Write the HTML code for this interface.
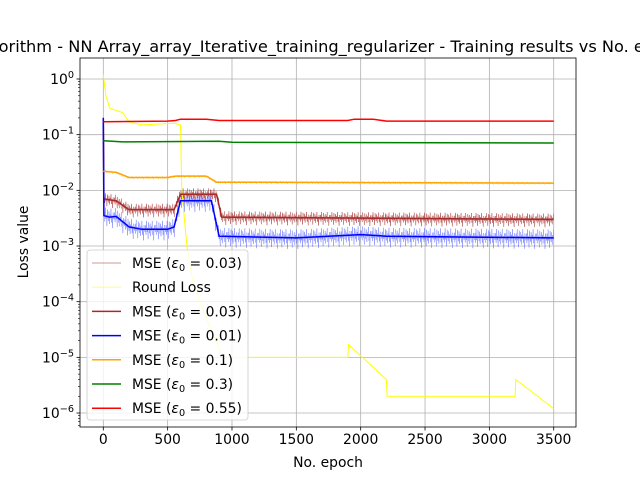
<!DOCTYPE html>
<html><head><meta charset="utf-8"><style>
body{margin:0;background:#fff;}
svg text{font-family:"DejaVu Sans","Liberation Sans",sans-serif;}
</style></head><body>
<svg id="c" width="640" height="480" xmlns="http://www.w3.org/2000/svg"></svg>
<script>
const redE=[0,500,560,600,800,900,1900,1950,2100,2200,3500];
const redV=[0.17,0.175,0.18,0.19,0.19,0.18,0.18,0.19,0.19,0.175,0.175];
const greenE=[0,150,900,1000,3500];
const greenV=[0.078,0.074,0.076,0.073,0.071];
const orangeE=[0,100,200,500,560,800,880,3500];
const orangeV=[0.022,0.021,0.017,0.017,0.018,0.018,0.014,0.0135];
const brownE=[0,5,100,200,550,600,880,920,3500];
const brownV=[0.2,0.007,0.0065,0.0045,0.0045,0.0085,0.0085,0.0033,0.003];
const blueE=[0,5,50,100,200,300,500,550,600,840,900,1500,2000,2200,3500];
const blueV=[0.2,0.0035,0.0033,0.0034,0.0022,0.002,0.002,0.0022,0.0065,0.0065,0.0015,0.0014,0.0016,0.0015,0.0014];
const roundE=[0,20,50,150,200,300,550,600,610,650,700,800,900,905,1900,1905,2200,2205,3200,3205,3500];
const roundV=[1.2,0.5,0.3,0.25,0.17,0.15,0.16,0.15,0.01,1e-3,2e-4,5e-5,1.5e-5,1e-5,1e-5,1.7e-5,4e-6,2e-6,2e-6,4e-6,1.2e-6];
const noise=[0.15,-0.2,0.3,-0.1,0.05,-0.35,0.25,0.0,-0.15,0.2,-0.25,0.1,-0.05,0.3,-0.2,0.05,-0.4,0.15,0.0,-0.1];
const xTicks=[0,500,1000,1500,2000,2500,3000,3500];
const yExp=[0,-1,-2,-3,-4,-5,-6];

const svg=document.getElementById('c');
const NS='http://www.w3.org/2000/svg';
const L=80,R=576,T=58,B=427;
const X=e=>103.3+e*0.12869;
const Y=v=>79-Math.log10(v)*55.67;
function mk(tag,attrs,parent){const el=document.createElementNS(NS,tag);for(const k in attrs)el.setAttribute(k,attrs[k]);(parent||svg).appendChild(el);return el;}
function interp(E,V,e){for(let i=1;i<E.length;i++){if(e<=E[i]){const t=(e-E[i-1])/(E[i]-E[i-1]);return Math.pow(10,Math.log10(V[i-1])+t*(Math.log10(V[i])-Math.log10(V[i-1])));}}return V[V.length-1];}

mk('rect',{x:0,y:0,width:640,height:480,fill:'#fff'});
const clip=mk('clipPath',{id:'pc'});mk('rect',{x:L,y:T,width:R-L,height:B-T},clip);
const grid=mk('g',{});


xTicks.forEach(t=>{mk('line',{x1:X(t),x2:X(t),y1:T,y2:B,stroke:'#b0b0b0','stroke-width':0.8},grid);});
yExp.forEach(p=>{mk('line',{x1:L,x2:R,y1:Y(Math.pow(10,p)),y2:Y(Math.pow(10,p)),stroke:'#b0b0b0','stroke-width':0.8},grid);});

const plot=mk('g',{'clip-path':'url(#pc)'});
function rawLine(E,V,color,name,op,amp){
  let d='';let k=0;
  for(let e=0;e<=3500;e+=4){const v=interp(E,V,e)*(e<5?1:Math.pow(10,amp*noise[k++%noise.length]));d+=(d?'L':'M')+X(e).toFixed(1)+','+Y(v).toFixed(1);}
  const p=mk('path',{d,fill:'none',stroke:color,'stroke-width':0.5,opacity:op},plot);
  
  
}
function line(E,V,color,w,name){
  const d=E.map((e,i)=>(i?'L':'M')+X(e).toFixed(1)+','+Y(V[i]).toFixed(1)).join('');
  const p=mk('path',{d,fill:'none',stroke:color,'stroke-width':w},plot);
  
  
}
rawLine(blueE,blueV,'#3344ff','raw-mse-0.01',0.55,0.5);
rawLine(brownE,brownV,'#a52a2a','raw-mse-0.03',0.75,0.35);
rawLine(orangeE,orangeV,'#ffa500','raw-mse-0.1',0.5,0.08);
line(roundE,roundV,'#ffff00',1,'round-loss-line');
line(brownE,brownV,'#a52a2a',1.5,'mse-0.03-line');
line(blueE,blueV,'#0000ff',1.5,'mse-0.01-line');
line(orangeE,orangeV,'#ffa500',1.5,'mse-0.1-line');
line(greenE,greenV,'#008000',1.5,'mse-0.3-line');
line(redE,redV,'#ff0000',1.5,'mse-0.55-line');

mk('rect',{x:L,y:T,width:R-L,height:B-T,fill:'none',stroke:'#000','stroke-width':0.8});
xTicks.forEach(t=>{mk('line',{x1:X(t),x2:X(t),y1:B,y2:B+3.5,stroke:'#000','stroke-width':0.8});
  const tx=mk('text',{x:X(t),y:B+17,'font-size':13.9,'text-anchor':'middle'});tx.textContent=t;
  
  });
yExp.forEach(p=>{const y=Y(Math.pow(10,p));mk('line',{x1:L-3.5,x2:L,y1:y,y2:y,stroke:'#000','stroke-width':0.8});
  for(let m=2;m<10;m++){const ym=Y(m*Math.pow(10,p-1));if(ym>T&&ym<B)mk('line',{x1:L-2,x2:L,y1:ym,y2:ym,stroke:'#000','stroke-width':0.6});}
  const sup=p===0?'0':'\u2212'+(-p);
  const tx=mk('text',{x:L-6,y:y+5,'font-size':13.9,'text-anchor':'end'});
  
  
  const a=mk('tspan',{},tx);a.textContent='10';
  const b=mk('tspan',{dy:-6,'font-size':9.7},tx);b.textContent=sup;});
const xt=mk('text',{x:328,y:467,'font-size':13.9,'text-anchor':'middle'});xt.textContent='No. epoch';

const yt=mk('text',{x:28,y:242,'font-size':13.9,'text-anchor':'middle',transform:'rotate(-90 28 242)'});yt.textContent='Loss value';

const tt=mk('text',{x:328,y:52,'font-size':16.2,'text-anchor':'middle'});tt.textContent='Algorithm - NN Array_array_Iterative_training_regularizer - Training results vs No. epoch';


const lg=mk('g',{});

mk('rect',{x:87,y:250,width:161,height:170,rx:3,fill:'#fff','fill-opacity':0.8,stroke:'#ccc','stroke-width':0.8},lg);
const items=[['#bc7a7a',0.8,'0.03'],['#ffff66',0.8,null],['#a52a2a',1.5,'0.03'],['#0000ff',1.5,'0.01'],['#ffa500',1.5,'0.1'],['#008000',1.5,'0.3'],['#ff0000',1.5,'0.55']];
items.forEach((it,i)=>{const y=263+i*24.2;
  mk('line',{x1:92,x2:121,y1:y,y2:y,stroke:it[0],'stroke-width':it[1]},lg);
  const t=mk('text',{x:132,y:y+5,'font-size':13.9},lg);
  
  if(it[2]===null){t.textContent='Round Loss';}
  else{const a=mk('tspan',{},t);a.textContent='MSE (';
    const b=mk('tspan',{'font-style':'italic'},t);b.textContent='ε';
    const c=mk('tspan',{dy:3,'font-size':9.7},t);c.textContent='0';
    const d=mk('tspan',{dy:-3},t);d.textContent=' = '+it[2]+')';}
});
</script>
</body></html>
